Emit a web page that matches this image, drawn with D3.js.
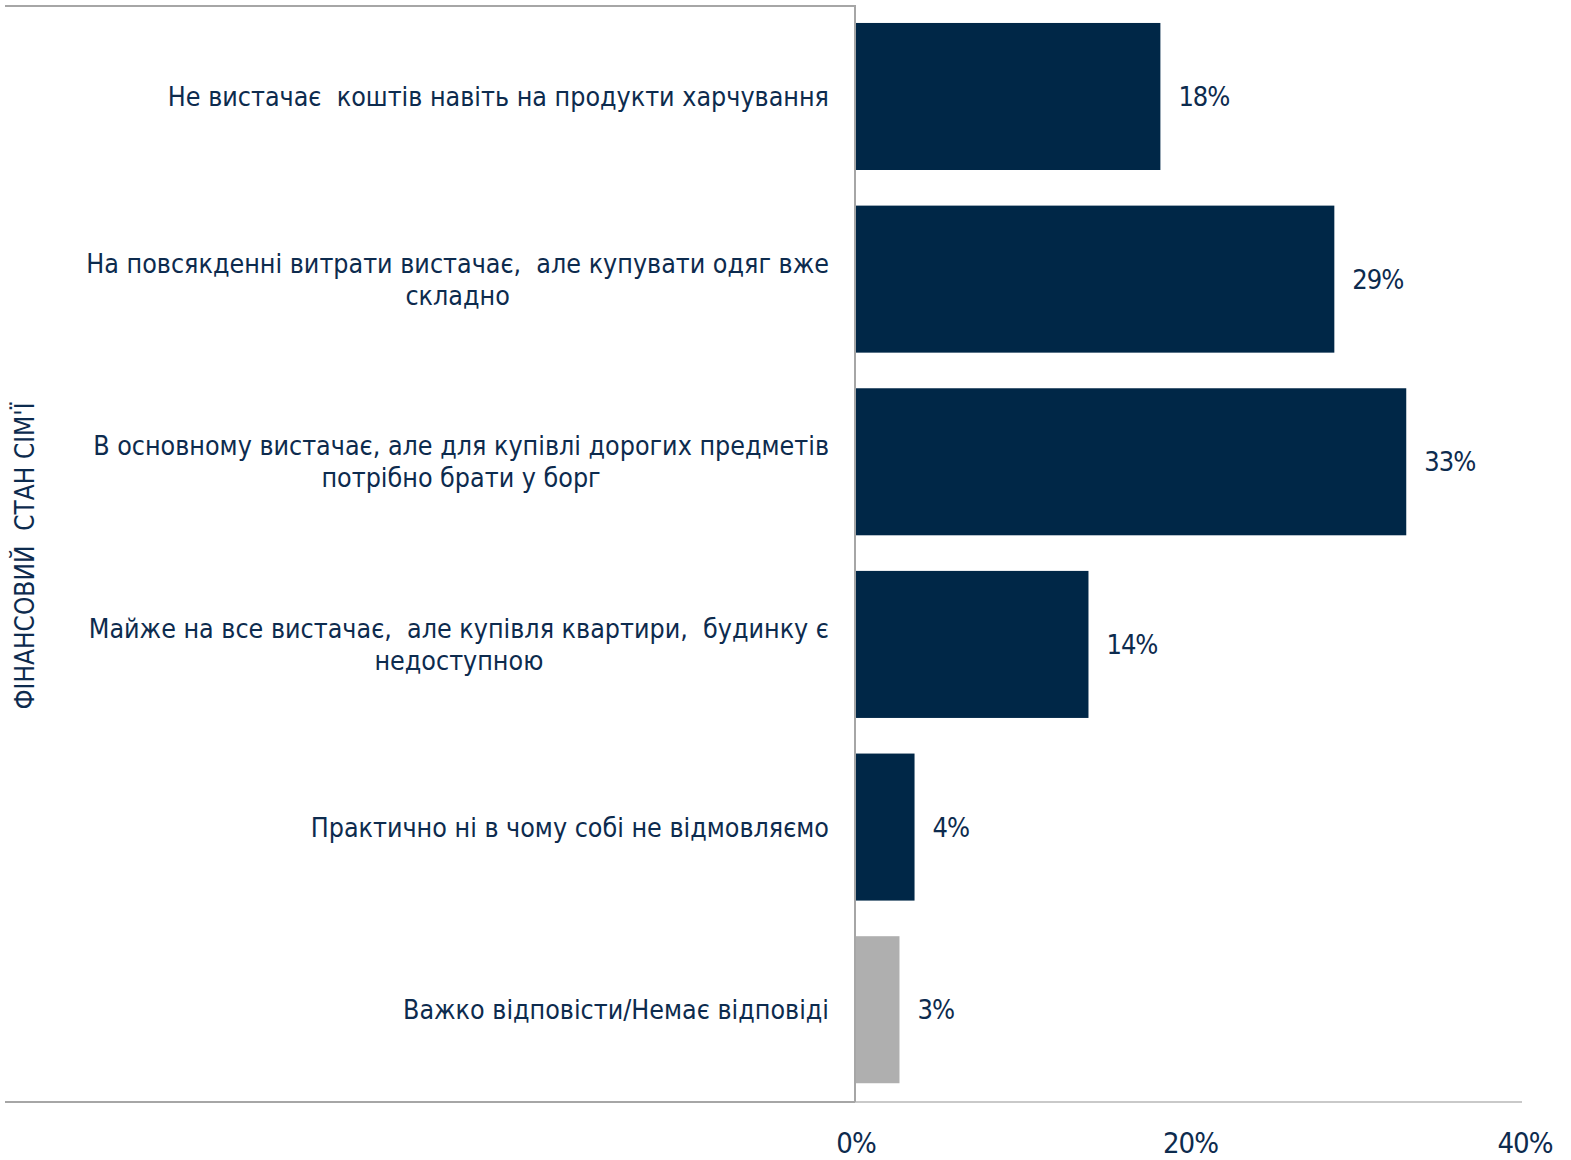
<!DOCTYPE html>
<html>
<head>
<meta charset="utf-8">
<script src="https://cdn.jsdelivr.net/npm/d3@7"></script>
<style>
  body { margin: 0; background: #fff; }
  svg text { fill: #0d2b4e; }
</style>
</head>
<body>
<svg id="chart" width="1571" height="1160"></svg>
<script>
// categories, each one is a list of lines as they wrap in the original
var categories = [
    ["Не вистачає  коштів навіть на продукти харчування"],
    ["На повсякденні витрати вистачає,  але купувати одяг вже", "складно"],
    ["В основному вистачає, але для купівлі дорогих предметів", "потрібно брати у борг"],
    ["Майже на все вистачає,  але купівля квартири,  будинку є", "недоступною"],
    ["Практично ні в чому собі не відмовляємо"],
    ["Важко відповісти/Немає відповіді"]
];
var values = [18.2, 28.6, 32.9, 13.9, 3.5, 2.6];
var valueLabels = ["18%", "29%", "33%", "14%", "4%", "3%"];
var xTicks = [0, 20, 40];
var barColors = ["#002747", "#002747", "#002747", "#002747", "#002747", "#afafaf"];
var yTitle = "ФІНАНСОВИЙ  СТАН СІМ'Ї";

var svg = d3.select("#chart");
var x0 = 856, x1 = 1525, plotTop = 4.7, plotBottom = 1101.5;

var x = d3.scaleLinear().domain([0, 40]).range([x0, x1]);
var y = d3.scaleBand().domain(d3.range(categories.length))
    .range([plotTop, plotBottom]).paddingInner(0.195).paddingOuter(0.1);

// frame lines
svg.append("line").attr("x1", 5).attr("x2", 855).attr("y1", 6).attr("y2", 6)
    .attr("stroke", "#a6a6a6").attr("stroke-width", 2);
svg.append("line").attr("x1", 5).attr("x2", 855).attr("y1", 1102).attr("y2", 1102)
    .attr("stroke", "#a6a6a6").attr("stroke-width", 2);
svg.append("line").attr("x1", 855).attr("x2", 1522).attr("y1", 1102).attr("y2", 1102)
    .attr("stroke", "#c9c9c9").attr("stroke-width", 2);

// bars
svg.append("g").selectAll("rect")
    .data(values)
    .join("rect")
    .attr("x", x(0))
    .attr("y", function (d, i) { return y(i); })
    .attr("width", function (d) { return x(d) - x(0); })
    .attr("height", y.bandwidth())
    .attr("fill", function (d, i) { return barColors[i]; });

// vertical axis line
svg.append("line").attr("x1", 855).attr("x2", 855).attr("y1", 5).attr("y2", 1102)
    .attr("stroke", "#a6a6a6").attr("stroke-width", 2);

// value labels
svg.append("g").selectAll("text")
    .data(values)
    .join("text")
    .attr("x", function (d) { return x(d) + 18; })
    .attr("y", function (d, i) { return y(i) + y.bandwidth() / 2; })
    .attr("dy", "0.36em")
    .style("font-family", "'DejaVu Sans Condensed', 'DejaVu Sans'")
    .style("font-stretch", "condensed")
    .style("font-size", "27px")
    .style("letter-spacing", "-1px")
    .text(function (d, i) { return valueLabels[i]; });

// category labels: block right-aligned, lines centered inside the block
var labelRight = 829, lineH = 32;
var catG = svg.append("g");
categories.forEach(function (lines, i) {
    var cy = y(i) + y.bandwidth() / 2;
    var t = catG.append("text")
        .style("font-family", "'DejaVu Sans Condensed', 'DejaVu Sans'")
        .style("font-stretch", "condensed")
        .style("font-size", "26.6px")
        .style("white-space", "pre")
        .attr("text-anchor", "middle");
    var spans = lines.map(function (s, k) {
        return t.append("tspan").attr("y", cy + (k - (lines.length - 1) / 2) * lineH)
            .attr("dy", "0.36em").text(s);
    });
    var w = d3.max(spans, function (s) { return s.node().getComputedTextLength(); });
    spans.forEach(function (s) { s.attr("x", labelRight - w / 2); });
});

// x axis tick labels
svg.append("g").selectAll("text")
    .data(xTicks)
    .join("text")
    .attr("x", function (d) { return x(d); })
    .attr("y", 1143)
    .attr("dy", "0.36em")
    .attr("text-anchor", "middle")
    .style("font-family", "'DejaVu Sans Condensed', 'DejaVu Sans'")
    .style("font-stretch", "condensed")
    .style("font-size", "29px")
    .style("letter-spacing", "-1px")
    .text(function (d) { return d + "%"; });

// y title
svg.append("text")
    .attr("transform", "translate(25,556) rotate(-90)")
    .attr("text-anchor", "middle")
    .attr("dy", "0.36em")
    .style("font-family", "'DejaVu Sans Condensed', 'DejaVu Sans'")
    .style("font-stretch", "condensed")
    .style("font-size", "26px")
    .style("white-space", "pre")
    .text(yTitle);
</script>
</body>
</html>
